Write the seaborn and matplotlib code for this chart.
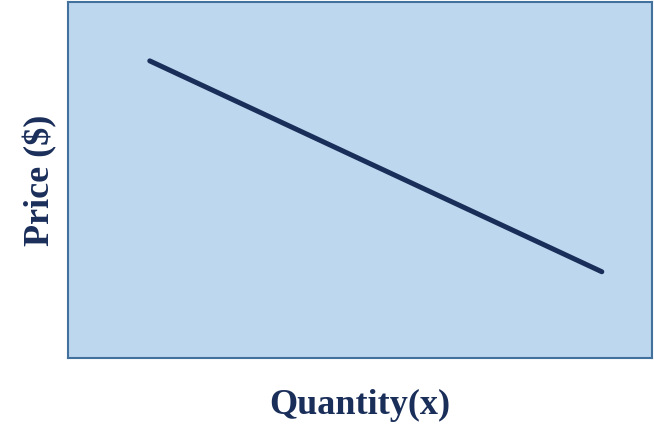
import matplotlib
matplotlib.use("Agg")
import matplotlib.pyplot as plt
import pandas as pd
import seaborn as sns

# Demand curve endpoints (arbitrary 0-100 units, axes are unlabelled)
quantity = [14.0, 91.4]
price = [83.4, 24.2]

x_label = "Quantity(x)"
y_label = "Price ($)"

sns.set_theme(style="white")
plt.rcParams["font.family"] = ["Liberation Serif", "DejaVu Serif"]

navy = "#1A2E5A"
df = pd.DataFrame({"quantity": quantity, "price": price})

fig = plt.figure(figsize=(6.54, 4.43), dpi=100)
ax = fig.add_axes([0.104, 0.192, 0.893, 0.804])
ax.set_facecolor("#BDD7EE")

sns.lineplot(data=df, x="quantity", y="price", ax=ax, color=navy, linewidth=3.6)

ax.set_xlim(0, 100)
ax.set_ylim(0, 100)
ax.set_xticks([])
ax.set_yticks([])
for side in ax.spines.values():
    side.set_visible(True)
    side.set_color("#41719C")
    side.set_linewidth(1.5)

ax.set_xlabel(x_label, fontsize=26, fontweight="bold", color=navy, labelpad=22)
ax.set_ylabel(y_label, fontsize=26, fontweight="bold", color=navy, labelpad=8)

fig.savefig("out.png", dpi=100, facecolor="white")
plt.close(fig)
